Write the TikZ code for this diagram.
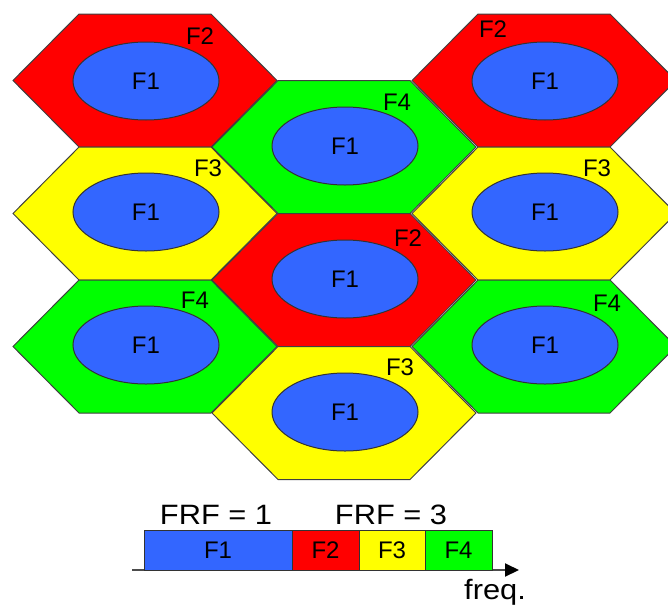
\documentclass[tikz,border=0pt]{standalone}
\usepackage{fontspec}
\setmainfont{Liberation Sans}
\usetikzlibrary{shapes.geometric,arrows.meta}

\definecolor{cellred}{RGB}{255,0,0}
\definecolor{cellgreen}{RGB}{0,255,0}
\definecolor{cellyellow}{RGB}{255,255,0}
\definecolor{cellblue}{RGB}{51,102,255}

\tikzset{
  cell/.style={draw=black!75,line width=1pt},
  core/.style={ellipse,draw=black!80,line width=1pt,fill=cellblue,minimum width=146pt,minimum height=78pt,inner sep=0pt,font=\fontsize{24}{26}\selectfont},
  tag/.style={inner sep=0pt,font=\fontsize{24}{26}\selectfont},
  slot/.style={draw=black!80,line width=1pt,minimum height=40pt,inner sep=0pt,font=\fontsize{24}{26}\selectfont},
  caption/.style={inner sep=0pt,font=\fontsize{28}{30}\selectfont,xscale=1.1}
}

% one flat-topped cell: centre x, centre y, colour
\newcommand{\hexcell}[3]{\filldraw[cell,fill=#3] (#1,#2) ++(-132,0) -- ++(66,-66.5) -- ++(132,0) -- ++(66,66.5) -- ++(-66,66.5) -- ++(-132,0) -- cycle;}

\begin{document}
\begin{tikzpicture}[x=1pt,y=-1pt]
	\useasboundingbox (0,0) rectangle (668,605);

	% cells
	\hexcell{145}{80.5}{cellred}
	\hexcell{544}{80.5}{cellred}
	\hexcell{344}{147}{cellgreen}
	\hexcell{145}{213.5}{cellyellow}
	\hexcell{544}{213.5}{cellyellow}
	\hexcell{344}{280}{cellred}
	\hexcell{145}{346.5}{cellgreen}
	\hexcell{544}{346.5}{cellgreen}
	\hexcell{344}{413}{cellyellow}

	\begin{scope}[every node/.style={core}]
		\node (A) at (146,81) {F1};
		\node (B) at (545,81) {F1};
		\node (C) at (345,146) {F1};
		\node (D) at (146,212) {F1};
		\node (E) at (545,212) {F1};
		\node (F) at (345,279) {F1};
		\node (G) at (146,345) {F1};
		\node (H) at (545,345) {F1};
		\node (I) at (345,412) {F1};
	\end{scope}

	\begin{scope}[every node/.style={tag}]
		\node (tA) at (200,36) {F2};
		\node (tB) at (493,29) {F2};
		\node (tC) at (397,102) {F4};
		\node (tD) at (208,168) {F3};
		\node (tE) at (597,168) {F3};
		\node (tF) at (408,238) {F2};
		\node (tG) at (195,300) {F4};
		\node (tH) at (607,303) {F4};
		\node (tI) at (400,367) {F3};
	\end{scope}

	% spectrum
	\coordinate (f0) at (132,570);
	\coordinate (f1) at (519,570);
	\draw[black!70,line width=2pt,-{Triangle[length=14pt,width=13pt,color=black]}] (f0) -- (f1);

	\node[slot,fill=cellblue,minimum width=148pt] (s1) at (218,550) {F1};
	\node[slot,fill=cellred,minimum width=67pt] (s2) at (325.5,550) {F2};
	\node[slot,fill=cellyellow,minimum width=66pt] (s3) at (392,550) {F3};
	\node[slot,fill=cellgreen,minimum width=67pt] (s4) at (458.5,550) {F4};

	\node[caption] (r1) at (216,515) {FRF = 1};
	\node[caption] (r3) at (391,515) {FRF = 3};
	\node[caption] (fq) at (495,592) {freq.};
\end{tikzpicture}
\end{document}
